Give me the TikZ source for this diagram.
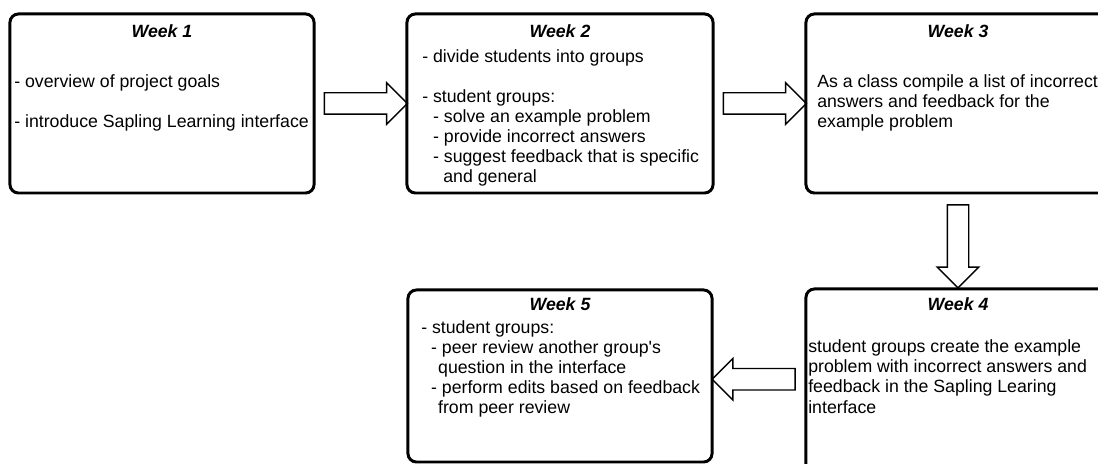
\documentclass[tikz,border=0pt]{standalone}
\usepackage{fontspec}
\setmainfont{Liberation Sans}
\usetikzlibrary{shapes.arrows,calc}

\begin{document}
\begin{tikzpicture}[x=0.025cm,y=-0.025cm,
    week/.style={draw,line width=2.1pt,rounded corners=6pt,inner sep=0pt},
    title/.style={anchor=base,inner sep=0pt,font=\fontsize{12.6}{14.23}\selectfont\bfseries\itshape},
    body/.style={anchor=base west,align=left,inner sep=0pt,font=\fontsize{12.6}{14.23}\selectfont},
    blockarrow/.style={single arrow,draw,line width=1pt,inner xsep=0pt,inner ysep=0.25cm,
        single arrow head extend=0.25cm,minimum height=2.075cm}]
    \useasboundingbox (0,0) rectangle (1098,464);
    \clip (0,0) rectangle (1098,464);

    % the five weeks
    \node[week,minimum width=7.6cm,minimum height=4.475cm] (w1) at (162,103.5) {};
    \node[week,minimum width=7.65cm,minimum height=4.475cm] (w2) at (560,103.5) {};
    \node[week,minimum width=7.6cm,minimum height=4.475cm] (w3) at (958,103.5) {};
    \node[week,minimum width=7.6cm,minimum height=4.675cm] (w4) at (958,382.5) {};
    \node[week,minimum width=7.6cm,minimum height=4.3cm] (w5) at (560,376) {};

    \node[title] (t1) at (162,38) {Week 1};
    \node[title] (t2) at (560,38) {Week 2};
    \node[title] (t3) at (958,38) {Week 3};
    \node[title] (t4) at (958,311) {Week 4};
    \node[title] (t5) at (560,311) {Week 5};

    % body text, placed by the baseline of its last line
    \node[body] (b1) at (14,127.5) {- overview of project goals\\[14.23pt]
        - introduce Sapling Learning interface};
    \node[body] (b2) at (422,182.5) {- divide students into groups\\[14.23pt]
        - student groups:\\
        \hspace*{7.7pt}- solve an example problem\\
        \hspace*{7.7pt}- provide incorrect answers\\
        \hspace*{7.7pt}- suggest feedback that is specific\\
        \hspace*{15pt}and general};
    \node[body] (b3) at (817,127.5) {As a class compile a list of incorrect\\
        answers and feedback for the\\
        example problem};
    \node[body] (b4) at (808,413) {student groups create the example\\
        problem with incorrect answers and\\
        feedback in the Sapling Learing\\
        interface};
    \node[body] (b5) at (421,414) {- student groups:\\
        \hspace*{7pt}- peer review another group\textquotesingle s\\
        \hspace*{12pt}question in the interface\\
        \hspace*{7pt}- perform edits based on feedback\\
        \hspace*{12pt}from peer review};

    % hollow arrows between the weeks
    \node[blockarrow] (a12) at ($(w1.east)!0.5!(w2.west)$) {};
    \node[blockarrow] (a23) at ($(w2.east)!0.5!(w3.west)$) {};
    \node[blockarrow,rotate=270] (a34) at ($(w3.south)!0.5!(w4.north)$) {};
    \node[blockarrow,rotate=180] (a45) at ($(w4.west)!0.5!(w5.east)$) {};
\end{tikzpicture}
\end{document}
